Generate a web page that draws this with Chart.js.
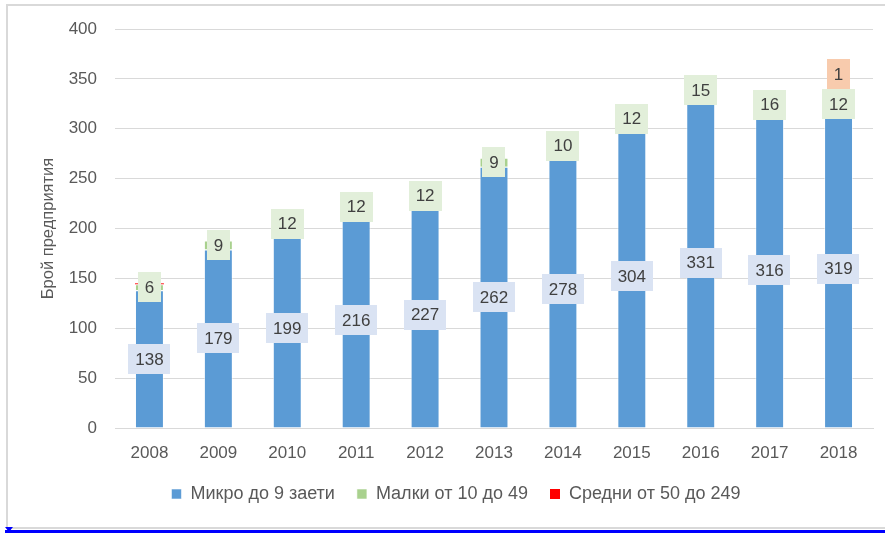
<!DOCTYPE html>
<html lang="bg">
<head>
<meta charset="utf-8">
<script src="https://cdn.jsdelivr.net/npm/chart.js@4/dist/chart.umd.min.js"></script>
<style>
  html, body { margin: 0; padding: 0; background: #fff; }
  #wrap { position: relative; width: 885px; height: 533px; overflow: hidden; }
  #frame { position: absolute; left: 6px; top: 4px; width: 890px; height: 521px;
           border: 2px solid #d9d9d9; box-sizing: content-box; }
  #bottomline { position: absolute; left: 5px; top: 530px; width: 880px; height: 3px; background: #0000ff; }
  #marker { position: absolute; left: 5px; top: 527px; width: 0; height: 0;
            border-left: 4px solid transparent; border-right: 4px solid transparent;
            border-top: 5px solid #0000ff; }
  canvas { position: absolute; left: 0; top: 0; }
</style>
</head>
<body>
<div id="wrap">
  <div id="frame"></div>
  <div id="bottomline"></div>
  <div id="marker"></div>
  <canvas id="chart" width="885" height="533"></canvas>
</div>
<script>
// Данни
const godini   = ['2008','2009','2010','2011','2012','2013','2014','2015','2016','2017','2018'];
const mikro    = [138, 179, 199, 216, 227, 262, 278, 304, 331, 316, 319];
const malki    = [6, 9, 12, 12, 12, 9, 10, 12, 15, 16, 12];
const sredni   = [1, 0, 0, 0, 0, 0, 0, 0, 0, 0, 1];
const sredniEtiketi = [false, false, false, false, false, false, false, false, false, false, true];
const yTicks   = [0, 50, 100, 150, 200, 250, 300, 350, 400];

const FONT = "'Liberation Sans', Arial, sans-serif";

// Етикети с цветен фон върху сегментите
const etiketiPlugin = {
  id: 'etiketi',
  afterDatasetsDraw(chart) {
    const ctx = chart.ctx;
    ctx.save();
    ctx.font = '17px ' + FONT;
    ctx.textAlign = 'center';
    ctx.textBaseline = 'middle';
    const greenCenters = [];
    chart.data.datasets.forEach((ds, di) => {
      const meta = chart.getDatasetMeta(di);
      meta.data.forEach((bar, i) => {
        const v = ds.data[i];
        if (!v) return;
        if (ds.showLabel && !ds.showLabel[i]) return;
        const txt = String(v);
        const w = ctx.measureText(txt).width + 14;
        const h = 30;
        let y = (bar.y + bar.base) / 2;
        if (di === 1) greenCenters[i] = y;
        if (di === 2) y = greenCenters[i] - 30;
        ctx.fillStyle = ds.labelBg;
        ctx.fillRect(Math.round(bar.x - w / 2), Math.round(y - h / 2), Math.round(w), h);
        ctx.fillStyle = '#404040';
        ctx.fillText(txt, bar.x, y + 1);
      });
    });
    ctx.restore();
  }
};

new Chart(document.getElementById('chart'), {
  type: 'bar',
  data: {
    labels: godini,
    datasets: [
      { label: 'Микро до 9 заети', data: mikro, backgroundColor: '#5b9bd5',
        borderColor: 'rgba(255,255,255,0.55)', borderWidth: 1, labelBg: '#dae3f3' },
      { label: 'Малки от 10 до 49', data: malki, backgroundColor: '#a9d18e',
        borderColor: 'rgba(255,255,255,0.55)', borderWidth: 1, labelBg: '#e2efda' },
      { label: 'Средни от 50 до 249', data: sredni, backgroundColor: '#ff0000',
        borderWidth: 0, labelBg: '#f8cbad', showLabel: sredniEtiketi },
    ],
  },
  options: {
    responsive: false,
    animation: false,
    datasets: { bar: { categoryPercentage: 1, barPercentage: 0.42 } },
    layout: { padding: { left: 39, right: 12, top: 29, bottom: 20 } },
    plugins: {
      tooltip: { enabled: false },
      legend: {
        position: 'bottom',
        labels: {
          boxWidth: 10, boxHeight: 10, padding: 22,
          color: '#595959', font: { family: FONT, size: 18 },
        },
      },
    },
    scales: {
      x: {
        stacked: true,
        grid: { display: false },
        border: { color: '#d9d9d9', width: 1 },
        ticks: { color: '#595959', font: { family: FONT, size: 17 }, padding: 7 },
        afterFit(s) { s.height = 35; },
      },
      y: {
        stacked: true,
        min: 0, max: 400,
        afterBuildTicks(s) { s.ticks = yTicks.map(v => ({ value: v })); },
        grid: { color: '#d9d9d9', lineWidth: 1, drawTicks: false },
        border: { display: false },
        ticks: { color: '#595959', font: { family: FONT, size: 17 }, padding: 18 },
        title: { display: true, text: 'Брой предприятия', color: '#595959',
                 font: { family: FONT, size: 16.5 }, padding: 0 },
        afterFit(s) { s.width = 76; },
      },
    },
  },
  plugins: [etiketiPlugin],
});
</script>
</body>
</html>
